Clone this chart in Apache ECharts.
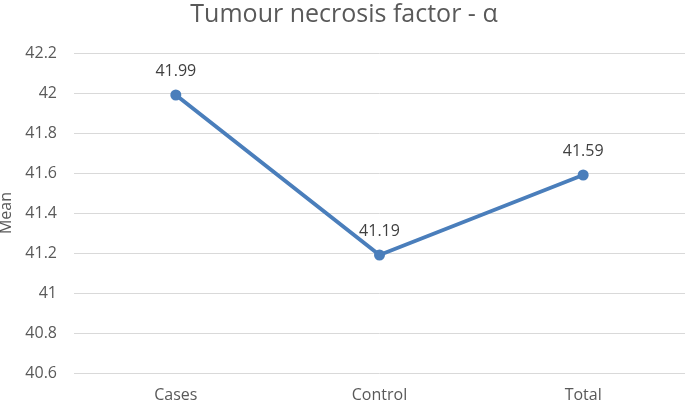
<!DOCTYPE html>
<html><head><meta charset="utf-8">
<script src="https://cdn.jsdelivr.net/npm/echarts@6/dist/echarts.min.js"></script>
<style>html,body{margin:0;padding:0;background:#fff}#c{width:685px;height:402px}</style>
</head><body><div id="c"></div>
<script>
const categories = ['Cases', 'Control', 'Total'];
const meanValues = [41.99, 41.19, 41.59];
const yTicks = { min: 40.6, max: 42.2, step: 0.2 };

const chart = echarts.init(document.getElementById('c'), null, {renderer: 'canvas'});
const font = 'Open Sans, Noto Sans, sans-serif';
chart.setOption({
  animation: false,
  title: {
    text: 'Tumour necrosis factor - α',
    left: 339, top: -3, textAlign: 'center',
    textStyle: {fontFamily: font, fontSize: 25, fontWeight: 'normal', color: '#595959'}
  },
  grid: {left: 74, right: 0, top: 53, bottom: 29, containLabel: false, outerBoundsMode: 'none'},
  xAxis: {
    type: 'category', data: categories, boundaryGap: true,
    axisLine: {show: false}, axisTick: {show: false},
    axisLabel: {fontFamily: font, fontSize: 16, color: '#595959', margin: 14}
  },
  yAxis: {
    type: 'value', min: yTicks.min, max: yTicks.max, interval: yTicks.step,
    name: 'Mean', nameLocation: 'middle', nameGap: 57, nameRotate: 90,
    nameTextStyle: {fontFamily: font, fontSize: 16, color: '#595959'},
    axisLine: {show: false}, axisTick: {show: false},
    axisLabel: {fontFamily: font, fontSize: 16, color: '#595959', margin: 17,
      formatter: v => String(parseFloat(v.toFixed(1)))},
    splitLine: {lineStyle: {color: '#d9d9d9', width: 1}}
  },
  series: [{
    type: 'line', data: meanValues,
    lineStyle: {color: '#4a7ebb', width: 4},
    itemStyle: {color: '#4a7ebb'},
    symbol: 'circle', symbolSize: 11,
    label: {show: true, position: 'top', distance: 10, fontFamily: font, fontSize: 16, color: '#404040',
      formatter: p => p.value.toFixed(2)}
  }]
});
</script></body></html>
